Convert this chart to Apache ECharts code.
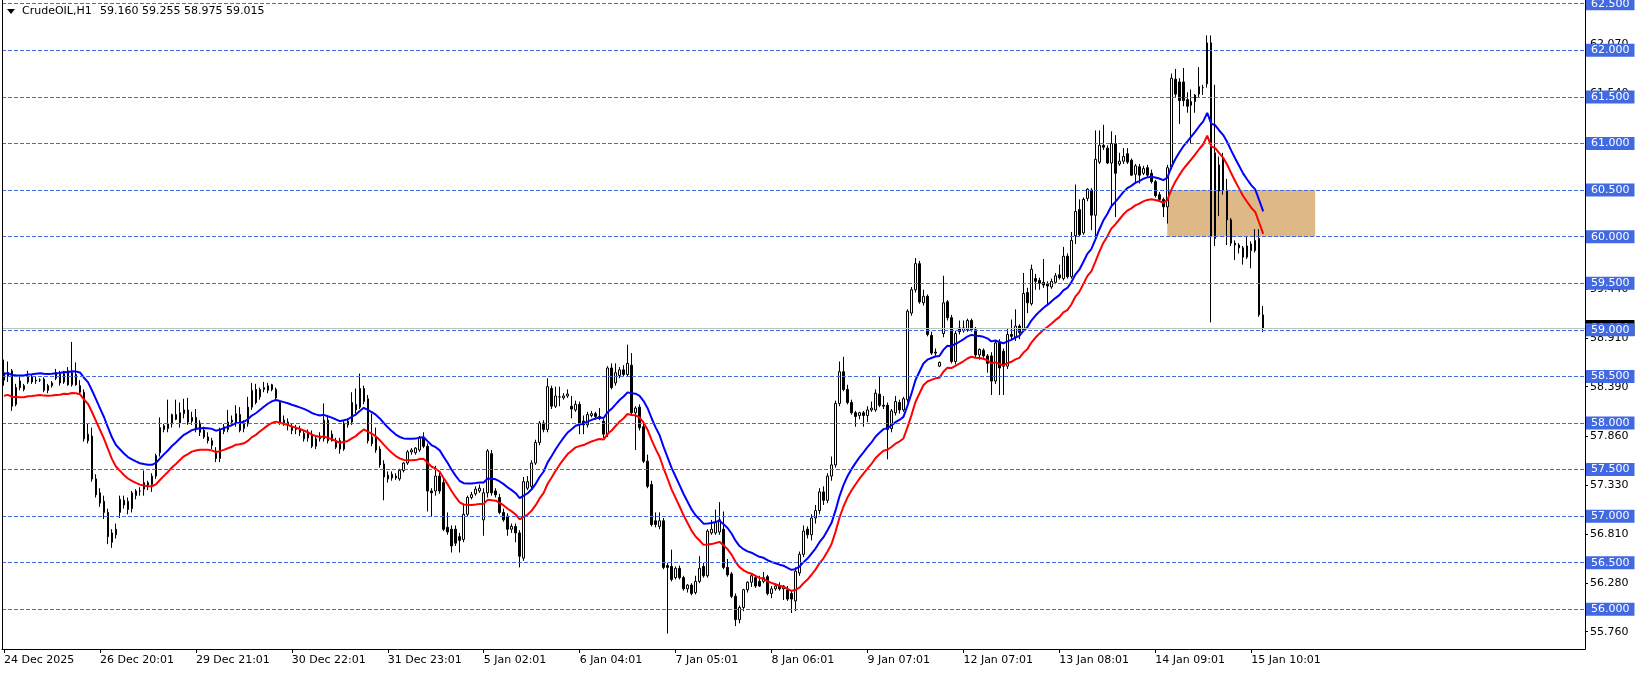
<!DOCTYPE html>
<html><head><meta charset="utf-8">
<script src="https://cdn.jsdelivr.net/npm/echarts@6/dist/echarts.min.js"></script>
<style>html,body{margin:0;padding:0;background:#fff}#c{width:1641px;height:675px}</style>
</head><body><div id="c"></div>
<script>
const symbolName = 'CrudeOIL,H1';
const opens = [
58.46,58.54,58.56,58.20,58.45,58.36,58.44,58.50,58.45,58.46,
58.47,58.35,58.40,58.54,58.52,58.44,58.56,58.41,58.52,58.40,
58.33,57.81,57.86,57.40,57.25,57.16,57.04,56.82,56.80,57.04,
57.17,57.07,57.08,57.22,57.27,57.29,57.33,57.34,57.43,57.68,
57.93,57.94,57.99,58.09,58.00,58.10,58.14,58.02,58.06,58.00,
57.92,57.85,57.81,57.70,57.62,57.91,57.93,58.03,57.99,58.09,
57.94,57.99,58.17,58.36,58.28,58.36,58.35,58.41,58.36,58.22,
58.03,58.01,57.96,57.93,57.94,57.83,57.90,57.88,57.75,57.83,
57.83,58.03,57.88,57.81,57.81,57.72,57.98,58.01,58.14,58.17,
58.23,58.26,57.85,57.85,57.72,57.56,57.44,57.45,57.43,57.40,
57.49,57.57,57.69,57.68,57.71,57.84,57.75,57.27,57.27,57.43,
57.36,56.88,56.86,56.86,56.78,56.75,57.02,57.20,57.24,57.27,
56.96,57.25,57.67,57.27,57.20,57.04,57.00,56.86,56.89,56.82,
56.55,57.30,57.32,57.57,57.79,58.00,57.93,58.37,58.18,58.28,
58.27,58.29,58.18,58.14,58.20,58.02,57.98,58.08,58.10,58.07,
58.02,57.88,58.59,58.43,58.51,58.57,58.52,58.62,58.11,58.17,
57.96,57.59,57.34,56.95,56.89,56.95,56.47,56.46,56.34,56.44,
56.34,56.22,56.26,56.18,56.30,56.46,56.36,56.82,56.82,56.83,
56.86,56.45,56.38,56.14,55.89,56.02,56.21,56.29,56.34,56.30,
56.30,56.35,56.17,56.22,56.25,56.22,56.21,56.17,56.09,56.39,
56.59,56.86,56.80,56.98,57.06,57.26,57.17,57.43,57.55,58.21,
58.55,58.36,58.22,58.11,58.08,58.11,58.08,58.14,58.14,58.31,
58.19,58.19,57.94,58.11,58.22,58.14,58.25,59.18,59.43,59.71,
59.29,59.36,58.94,58.76,58.61,58.96,59.30,59.13,58.66,59.02,
58.99,59.00,59.10,59.00,58.73,58.78,58.72,58.72,58.45,58.86,
58.77,58.61,58.95,58.92,59.04,59.00,59.40,59.28,59.55,59.53,
59.51,59.49,59.46,59.51,59.59,59.55,59.79,59.57,60.01,60.29,
60.04,60.41,60.50,60.23,60.80,60.98,60.95,60.79,61.00,60.78,
60.81,60.89,60.82,60.67,60.75,60.68,60.74,60.68,60.59,60.45,
60.40,60.32,60.75,61.69,61.66,61.66,61.47,61.41,61.45,61.53,
61.60,61.64,62.08,59.98,60.77,60.83,60.50,60.18,59.93,59.91,
59.88,59.78,59.92,59.85,59.98,59.160];
const highs = [
58.68,58.66,58.58,58.42,58.50,58.42,58.56,58.52,58.50,58.48,
58.49,58.42,58.45,58.58,58.56,58.56,58.60,58.87,58.65,58.46,
58.36,58.00,57.95,57.45,57.30,57.22,57.08,56.86,56.92,57.22,
57.22,57.20,57.27,57.29,57.31,57.49,57.38,57.46,57.67,58.06,
57.99,58.25,58.10,58.25,58.22,58.26,58.27,58.12,58.15,58.03,
57.96,57.90,57.84,57.74,57.95,57.99,58.14,58.08,58.19,58.17,
58.03,58.28,58.43,58.42,58.38,58.44,58.43,58.42,58.38,58.24,
58.08,58.05,58.00,57.98,57.97,57.92,57.93,57.92,57.86,57.90,
58.21,58.08,57.92,57.84,57.84,58.02,58.05,58.33,58.37,58.53,
58.40,58.30,58.10,57.95,57.75,57.60,57.48,57.48,57.46,57.51,
57.58,57.71,57.73,57.74,57.86,57.90,57.78,57.30,57.54,57.47,
57.40,57.04,56.90,56.90,56.82,57.13,57.22,57.26,57.32,57.34,
57.30,57.72,57.71,57.30,57.24,57.08,57.03,56.92,56.92,56.85,
57.42,57.43,57.60,57.82,58.02,58.03,58.48,58.40,58.39,58.39,
58.32,58.36,58.29,58.24,58.23,58.08,58.12,58.13,58.12,58.16,
58.05,58.61,58.64,58.64,58.60,58.62,58.84,58.75,58.18,58.20,
58.00,57.66,57.38,57.04,57.04,56.98,56.50,56.64,56.46,56.47,
56.36,56.27,56.28,56.36,56.57,56.50,56.86,56.96,57.07,57.15,
57.05,56.54,56.40,56.17,56.04,56.22,56.30,56.38,56.37,56.36,
56.40,56.37,56.25,56.27,56.29,56.26,56.25,56.20,56.45,56.62,
56.90,56.89,57.02,57.12,57.30,57.32,57.46,57.64,58.24,58.66,
58.71,58.41,58.25,58.13,58.12,58.13,58.18,58.23,58.36,58.50,
58.29,58.22,58.15,58.29,58.25,58.28,59.22,59.46,59.77,59.74,
59.43,59.38,58.98,58.80,58.66,59.58,59.32,59.16,58.99,59.10,
59.10,59.12,59.12,59.03,58.80,58.80,58.74,58.76,58.88,58.90,
58.80,59.02,59.11,59.22,59.06,59.61,59.45,59.70,59.60,59.56,
59.76,59.52,59.55,59.61,59.70,59.89,59.82,60.05,60.56,60.40,
60.42,60.52,60.52,61.14,61.14,61.20,60.98,61.13,61.09,60.90,
60.95,60.95,60.84,60.78,60.78,60.76,60.77,60.72,60.61,60.48,
60.42,60.77,61.75,61.80,61.70,61.81,61.55,61.58,61.53,61.82,
61.63,62.16,62.16,61.63,60.86,60.90,60.62,60.20,59.96,59.93,
59.90,60.00,59.95,60.08,60.08,59.255];
const lows = [
58.40,58.44,58.13,58.18,58.35,58.34,58.42,58.42,58.42,58.44,
58.33,58.32,58.38,58.46,58.40,58.42,58.40,58.39,58.40,58.31,
57.80,57.78,57.37,57.20,57.10,56.97,56.70,56.66,56.76,56.98,
57.08,57.02,57.04,57.18,57.22,57.22,57.28,57.26,57.40,57.64,
57.90,57.90,57.95,58.03,57.95,58.05,57.98,57.98,57.90,57.86,
57.83,57.78,57.72,57.58,57.58,57.88,57.90,57.98,57.96,57.90,
57.90,57.96,58.14,58.20,58.25,58.33,58.32,58.34,58.25,57.98,
57.97,57.92,57.88,57.88,57.86,57.80,57.80,57.73,57.72,57.80,
57.80,57.78,57.80,57.72,57.67,57.70,57.95,57.98,58.10,58.15,
58.20,57.78,57.75,57.68,57.52,57.17,57.36,57.38,57.39,57.38,
57.47,57.55,57.66,57.66,57.69,57.73,57.05,57.00,57.22,57.24,
56.84,56.80,56.61,56.68,56.61,56.72,57.00,57.18,57.22,57.25,
56.79,57.20,57.22,57.20,57.02,56.94,56.79,56.82,56.72,56.45,
56.52,57.28,57.28,57.55,57.76,57.90,57.90,58.15,58.16,58.18,
58.25,58.27,58.05,58.12,57.88,57.88,57.95,58.06,58.04,58.03,
57.84,57.85,58.36,58.40,58.48,58.50,58.50,58.09,57.71,57.92,
57.57,57.30,56.89,56.88,56.86,56.43,55.74,56.30,56.32,56.32,
56.20,56.18,56.15,56.16,56.28,56.34,56.34,56.80,56.80,56.80,
56.43,56.35,56.12,55.82,55.85,55.98,56.18,56.24,56.23,56.24,
56.28,56.15,56.12,56.20,56.20,56.10,56.09,55.96,55.98,56.36,
56.56,56.76,56.74,56.92,57.02,57.12,57.14,57.38,57.52,58.18,
58.34,58.20,58.09,57.96,58.04,57.96,58.01,58.12,58.12,58.17,
58.15,57.61,57.90,58.08,58.10,58.12,58.22,59.15,59.40,59.28,
59.26,58.93,58.73,58.72,58.60,58.92,59.10,58.64,58.63,58.95,
58.97,58.98,58.98,58.70,58.68,58.70,58.54,58.30,58.42,58.30,
58.30,58.58,58.90,58.88,58.90,58.98,59.18,59.26,59.43,59.43,
59.45,59.27,59.44,59.49,59.54,59.53,59.55,59.55,59.92,60.00,
60.02,60.38,60.07,60.00,60.78,60.93,60.78,60.31,60.21,60.76,
60.78,60.78,60.65,60.57,60.57,60.66,60.64,60.57,60.42,60.38,
60.21,60.14,60.72,61.50,61.21,61.40,61.33,61.00,61.33,61.50,
61.52,61.60,59.08,59.90,60.22,60.45,59.91,59.90,59.75,59.82,
59.70,59.76,59.66,59.83,59.14,58.975];
const closes = [
58.54,58.50,58.18,58.38,58.38,58.40,58.50,58.44,58.46,58.46,
58.35,58.40,58.43,58.48,58.43,58.53,58.41,58.54,58.41,58.33,
57.83,57.88,57.40,57.23,57.14,57.04,56.78,56.72,56.86,57.18,
57.12,57.16,57.25,57.27,57.27,57.36,57.36,57.43,57.65,57.95,
57.97,57.99,58.09,58.04,58.11,58.14,58.01,58.06,57.93,57.90,
57.85,57.81,57.76,57.62,57.92,57.96,58.01,58.01,58.10,57.92,
58.00,58.17,58.35,58.22,58.36,58.38,58.40,58.36,58.27,58.01,
58.00,57.98,57.92,57.95,57.90,57.89,57.84,57.75,57.83,57.86,
58.03,57.81,57.81,57.74,57.72,58.00,58.02,58.22,58.20,58.37,
58.37,57.81,57.78,57.71,57.55,57.42,57.40,57.41,57.41,57.49,
57.57,57.69,57.71,57.73,57.84,57.75,57.27,57.25,57.43,57.27,
56.86,56.83,56.68,56.71,56.74,57.02,57.20,57.23,57.29,57.30,
57.25,57.70,57.25,57.23,57.04,56.96,56.86,56.89,56.82,56.57,
57.37,57.37,57.57,57.79,58.00,57.93,58.39,58.18,58.29,58.28,
58.29,58.31,58.15,58.20,58.00,57.98,58.09,58.10,58.07,58.05,
57.88,58.59,58.38,58.54,58.57,58.52,58.64,58.11,58.16,57.95,
57.59,57.32,56.91,56.91,56.95,56.45,56.45,56.32,56.44,56.34,
56.22,56.26,56.17,56.30,56.44,56.36,56.84,56.86,56.93,56.96,
56.45,56.37,56.14,55.89,56.02,56.21,56.29,56.36,56.25,56.25,
56.34,56.17,56.22,56.25,56.22,56.25,56.11,56.11,56.41,56.59,
56.84,56.80,56.98,57.06,57.26,57.17,57.43,57.55,58.21,58.55,
58.36,58.22,58.11,58.07,58.11,58.08,58.14,58.16,58.32,58.19,
58.18,57.93,58.13,58.23,58.14,58.26,59.20,59.43,59.71,59.30,
59.36,58.95,58.75,58.75,58.65,59.29,59.13,58.66,58.96,58.98,
59.02,59.10,59.00,58.73,58.79,58.72,58.64,58.45,58.86,58.59,
58.61,58.95,58.93,59.04,58.97,59.39,59.29,59.65,59.52,59.50,
59.48,59.47,59.52,59.58,59.56,59.79,59.57,59.96,60.27,60.02,
60.40,60.51,60.23,60.83,60.98,60.96,60.79,61.00,60.68,60.81,
60.86,60.80,60.66,60.76,60.66,60.73,60.66,60.59,60.44,60.40,
60.32,60.74,61.70,61.53,61.46,61.46,61.40,61.45,61.52,61.61,
61.60,62.08,60.00,60.90,60.49,60.50,60.18,59.93,59.91,59.88,
59.78,59.90,59.85,59.96,59.16,59.015];

const timeLabels = ['24 Dec 2025','26 Dec 20:01','29 Dec 21:01','30 Dec 22:01','31 Dec 23:01','5 Jan 02:01','6 Jan 04:01','7 Jan 05:01','8 Jan 06:01','9 Jan 07:01','12 Jan 07:01','13 Jan 08:01','14 Jan 09:01','15 Jan 10:01'];
const barsPerLabel = 24;
const levelLines = [56.0,56.5,57.0,57.5,58.0,58.5,59.0,59.5,60.0,60.5,61.0,61.5,62.0,62.5];
const scaleLabels = [55.760,56.280,56.810,57.330,57.860,58.390,58.910,59.440,61.540,62.070];
const bidPrice = 59.015;
const zoneBars = [291, 328];
const zonePrices = [60.0, 60.5];
const envPeriod = 20, envDeviationPct = 0.2, envStartValue = 58.41;
const totalSlots = 396;
const yMin = 55.574, yMax = 62.54;

const FONT = 'DejaVu Sans';
const n = closes.length;
const candleData = closes.map((c, i) => [opens[i], c, lows[i], highs[i]]);
// Envelopes indicator (EMA of close, +/- deviation), computed from the close series
const k = 2 / (envPeriod + 1);
const ema = [];
for (let i = 0; i < n; i++) {
  ema.push(i === 0 ? envStartValue : ema[i - 1] + k * (closes[i] - ema[i - 1]));
}
const upper = ema.map(v => +(v * (1 + envDeviationPct / 100)).toFixed(4));
const lower = ema.map(v => +(v * (1 - envDeviationPct / 100)).toFixed(4));
const cats = [];
for (let i = 0; i < totalSlots; i++) cats.push(String(i));
const isLabelIdx = (i) => i % barsPerLabel === 0 && (i / barsPerLabel) < timeLabels.length;

const chart = echarts.init(document.getElementById('c'), null, {renderer: 'canvas'});
chart.setOption({
  animation: false,
  backgroundColor: '#ffffff',
  grid: {left: 2, right: 56, top: 0, bottom: 26, containLabel: false},
  xAxis: {
    type: 'category', data: cats, boundaryGap: true,
    axisLine: {show: true, lineStyle: {color: '#000', width: 1}},
    axisTick: {show: true, alignWithLabel: true, interval: (i) => isLabelIdx(i), length: 4, lineStyle: {color: '#000'}},
    axisLabel: {show: true, interval: (i) => isLabelIdx(i), formatter: (v, i) => timeLabels[Math.round(i / barsPerLabel)] || '',
      align: 'left', margin: 6, fontSize: 11, fontFamily: FONT, color: '#000'},
    splitLine: {show: false}
  },
  yAxis: {
    type: 'value', position: 'right', min: yMin, max: yMax, scale: true,
    axisLine: {show: true, lineStyle: {color: '#000', width: 1}},
    axisTick: {show: true, customValues: scaleLabels, length: 3, lineStyle: {color: '#000'}},
    axisLabel: {show: true, customValues: scaleLabels, formatter: (v) => v.toFixed(3), margin: 5,
      fontSize: 11, fontFamily: FONT, color: '#000', align: 'left'},
    splitLine: {show: false}
  },
  graphic: [
    {type: 'line', shape: {x1: 2.5, y1: 0, x2: 2.5, y2: 649}, style: {stroke: '#000', lineWidth: 1}, z: 10},
    {type: 'polygon', shape: {points: [[7, 9], [15, 9], [11, 14]]}, style: {fill: '#000'}, z: 10},
    {type: 'text', left: 22, top: 6, style: {text: symbolName, font: '11px "DejaVu Sans"', fill: '#000'}, z: 10},
    {type: 'text', left: 100, top: 6, style: {text: [opens[n-1], highs[n-1], lows[n-1], closes[n-1]].map(v => v.toFixed(3)).join(' '), font: '11px "DejaVu Sans"', fill: '#000'}, z: 10}
  ],
  series: [
    {
      type: 'line', data: [], z: 1, silent: true,
      markArea: {silent: true, itemStyle: {color: '#DEB887', opacity: 1},
        data: [[{xAxis: zoneBars[0], yAxis: zonePrices[1]}, {xAxis: zoneBars[1], yAxis: zonePrices[0]}]]}
    },
    {
      type: 'candlestick', data: candleData, z: 2, barWidth: 2,
      itemStyle: {color: '#ffffff', color0: '#000000', borderColor: '#000000', borderColor0: '#000000', borderWidth: 1}
    },
    {type: 'line', data: upper, z: 3, showSymbol: false, symbol: 'none', lineStyle: {color: '#0000ff', width: 2}},
    {type: 'line', data: lower, z: 3, showSymbol: false, symbol: 'none', lineStyle: {color: '#ff0000', width: 2}},
    {
      type: 'line', data: [], z: 4, silent: true,
      markLine: {silent: true, symbol: ['none', 'none'],
        lineStyle: {color: '#c0c0c0', type: 'solid', width: 1},
        label: {show: true, position: 'end', distance: 1, formatter: (p) => p.value.toFixed(3), color: '#fff', backgroundColor: '#000',
          padding: [3, 5, 1, 5], lineHeight: 12, fontSize: 11, fontFamily: FONT},
        data: [{yAxis: bidPrice}]}
    },
    {
      type: 'line', data: [], z: 5, silent: true,
      markLine: {silent: true, symbol: ['none', 'none'],
        lineStyle: {color: '#4169e1', type: [4, 2], width: 1},
        label: {show: true, position: 'end', distance: 1, formatter: (p) => p.value.toFixed(3), color: '#fff', backgroundColor: '#4169e1',
          padding: [1, 5, 0, 5], lineHeight: 12, fontSize: 11, fontFamily: FONT},
        data: levelLines.map(v => ({yAxis: v}))}
    }
  ]
});
</script></body></html>
